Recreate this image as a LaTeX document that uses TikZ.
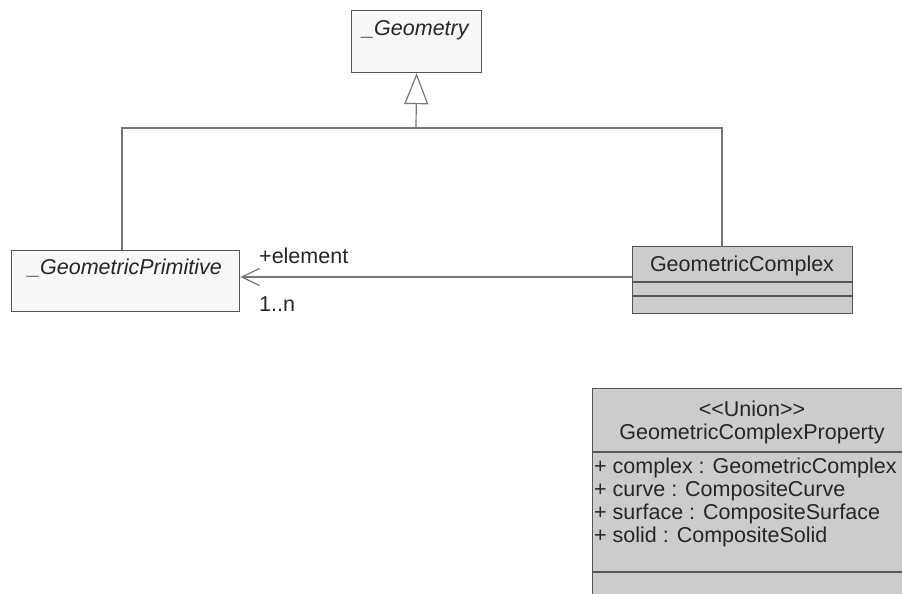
\documentclass[tikz,border=0pt]{standalone}
\usepackage{fontspec}
\setmainfont{Liberation Sans}[Ligatures=NoCommon]
\usetikzlibrary{arrows.meta,calc}
\definecolor{paleclass}{HTML}{F8F8F8}
\definecolor{greyclass}{HTML}{CCCCCC}
\definecolor{boxline}{HTML}{555555}
\definecolor{linkline}{HTML}{777777}
\begin{document}
\begin{tikzpicture}[x=1pt,y=-1pt,
  classbox/.style={draw=boxline, line width=1.2pt, rectangle, inner sep=0pt, anchor=north west},
  divider/.style={draw=boxline, line width=1.2pt},
  txt/.style={font=\fontsize{21.5}{25}\selectfont, text=black!85, inner sep=0pt},
  attr/.style={txt, anchor=west},
  link/.style={draw=linkline, line width=1.2pt},
  gen/.style={link, -{Triangle[open, length=31pt, width=24pt, line width=1.2pt, fill=white]}},
  assoc/.style={link, -{Straight Barb[length=18pt, width=17pt, line width=1.2pt]}}]
\useasboundingbox (0,0) rectangle (902,594);
\clip (0,0) rectangle (902,594);

% abstract superclass
\node[classbox, fill=paleclass, minimum width=130pt, minimum height=62pt] (geom) at (351,10) {};
\node[txt] (geomname) at (416,30) {\textit{\_Geometry}};

% abstract primitive
\node[classbox, fill=paleclass, minimum width=228pt, minimum height=61pt] (prim) at (11,250) {};
\node[txt] (primname) at (125,268) {\textit{\_GeometricPrimitive}};

% complex
\node[classbox, fill=greyclass, minimum width=220pt, minimum height=67pt] (cplx) at (632,246) {};
\node[txt] (cplxname) at (742,266) {GeometricComplex};
\draw[divider] (632,282) -- (852,282);
\draw[divider] (632,296) -- (852,296);

% union type (runs past the page edge)
\node[classbox, fill=greyclass, minimum width=330pt, minimum height=230pt] (union) at (592,388) {};
\node[txt] (stereo) at (752,409) {{<}{<}Union{>}{>}};
\node[txt] (unionname) at (752,434) {GeometricComplexProperty};
\draw[divider] (592,452) -- (930,452);
\node[attr] (a1) at (594,468) {+ complex : GeometricComplex};
\node[attr] (a2) at (594,491) {+ curve : CompositeCurve};
\node[attr] (a3) at (594,514) {+ surface : CompositeSurface};
\node[attr] (a4) at (594,537) {+ solid : CompositeSolid};
\draw[divider] (592,572) -- (930,572);

% generalisation tree
\coordinate (hub) at (416,128);
\coordinate (lcorner) at (122,128);
\coordinate (rcorner) at (722,128);
\draw[link] (prim.north -| lcorner) -- (lcorner) -- (rcorner) -- (cplx.north -| rcorner);
\draw[gen] (hub) -- (geom.south);

% aggregation of primitives
\draw[assoc] (cplx.west |- 0,277) -- (prim.east |- 0,277);
\node[txt, anchor=west] (role) at (259,256) {+element};
\node[txt, anchor=west] (mult) at (259,304) {1..n};
\end{tikzpicture}
\end{document}
